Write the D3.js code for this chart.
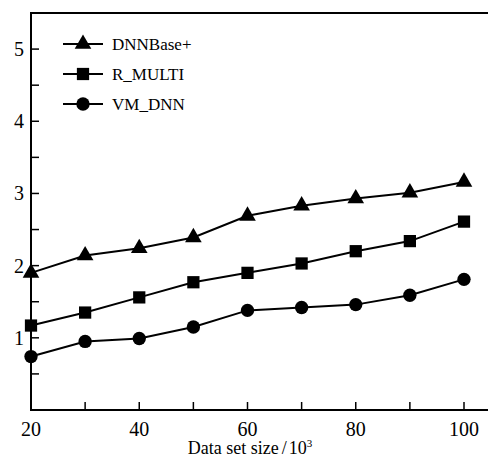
<!DOCTYPE html>
<html>
<head>
<meta charset="utf-8">
<script src="https://cdn.jsdelivr.net/npm/d3@7"></script>
<style>
  body { margin: 0; background: #fff; }
  svg text { font-family: 'Liberation Serif', 'DejaVu Serif', serif; }
</style>
</head>
<body>
<div id="chart"></div>
<script>

// data
var sizes = [20, 30, 40, 50, 60, 70, 80, 90, 100];
var seriesNames = ['DNNBase+', 'R_MULTI', 'VM_DNN'];
var dnnBase = [1.9, 2.14, 2.24, 2.39, 2.69, 2.83, 2.93, 3.01, 3.16];
var rMulti = [1.17, 1.35, 1.56, 1.77, 1.90, 2.03, 2.20, 2.34, 2.61];
var vmDnn = [0.74, 0.95, 0.99, 1.15, 1.38, 1.42, 1.46, 1.59, 1.81];
var xTicks = [20, 40, 60, 80, 100];
var yTicks = [1, 2, 3, 4, 5];

var margin = {top: 13, right: 0, bottom: 49, left: 31},
    widthCont = 488,
    heightCont = 460,
    width = widthCont - margin.left - margin.right,
    height = heightCont - margin.top - margin.bottom;

var svg = d3.select('#chart').append('svg')
    .attr('width', widthCont)
    .attr('height', heightCont);

var g = svg.append('g')
    .attr('transform', 'translate(' + margin.left + ',' + margin.top + ')');

var x = d3.scaleLinear().domain([20, 100]).range([0, 433]);
var y = d3.scaleLinear().domain([0, 5.5]).range([height - 1, 0]);

// frame: left, bottom, top
g.append('path')
  .attr('d', 'M' + width + ',0H0V' + (height - 1) + 'H' + width)
  .attr('fill', 'none')
  .attr('stroke', '#000')
  .attr('stroke-width', 2);

// x ticks (inward)
g.selectAll('.xtick').data(d3.range(20, 101, 10)).enter().append('line')
  .attr('x1', x).attr('x2', x)
  .attr('y1', height - 1).attr('y2', height - 9)
  .attr('stroke', '#000').attr('stroke-width', 1.5);

g.selectAll('.xlab').data(xTicks).enter().append('text')
  .attr('x', x).attr('y', height + 25)
  .attr('text-anchor', 'middle')
  .style('font-size', '20px')
  .text(function(d){ return d; });

// y ticks (inward)
g.selectAll('.ytick').data(d3.range(0.5, 5.01, 0.5)).enter().append('line')
  .attr('x1', 0).attr('x2', 8)
  .attr('y1', y).attr('y2', y)
  .attr('stroke', '#000').attr('stroke-width', 1.5);

g.selectAll('.ylab').data(yTicks).enter().append('text')
  .attr('x', -7).attr('y', function(d){ return y(d) + 7; })
  .attr('text-anchor', 'end')
  .style('font-size', '20px')
  .text(function(d){ return d; });

// axis title
var title = svg.append('text')
  .attr('x', 250).attr('y', 454)
  .attr('text-anchor', 'middle')
  .style('font-size', '18px');
title.append('tspan').text('Data set size');
title.append('tspan').attr('dx', 3).text('/');
title.append('tspan').attr('dx', 2).text('10');
title.append('tspan').attr('dy', -7).style('font-size', '11px').text('3');

// markers
var symbols = [d3.symbolTriangle, d3.symbolSquare, d3.symbolCircle];
var symSizes = [120, 150, 140];
var allSeries = [dnnBase, rMulti, vmDnn];

var line = d3.line()
  .x(function(d, i){ return x(sizes[i]); })
  .y(function(d){ return y(d); });

allSeries.forEach(function(vals, s) {
  g.append('path')
    .attr('d', line(vals))
    .attr('fill', 'none')
    .attr('stroke', '#000')
    .attr('stroke-width', 2);

  g.selectAll('.m' + s).data(vals).enter().append('path')
    .attr('transform', function(d, i){ return 'translate(' + x(sizes[i]) + ',' + y(d) + ')'; })
    .attr('d', d3.symbol().type(symbols[s]).size(symSizes[s]))
    .attr('fill', '#000');
});

// legend
var legend = svg.append('g');
var legY = [44, 74, 104];
seriesNames.forEach(function(name, s) {
  legend.append('line')
    .attr('x1', 63).attr('x2', 103)
    .attr('y1', legY[s]).attr('y2', legY[s])
    .attr('stroke', '#000').attr('stroke-width', 2);
  legend.append('path')
    .attr('transform', 'translate(83,' + legY[s] + ')')
    .attr('d', d3.symbol().type(symbols[s]).size(symSizes[s]))
    .attr('fill', '#000');
  legend.append('text')
    .attr('x', 112).attr('y', legY[s] + 6)
    .style('font-size', '17px')
    .text(name);
});

</script>
</body>
</html>
